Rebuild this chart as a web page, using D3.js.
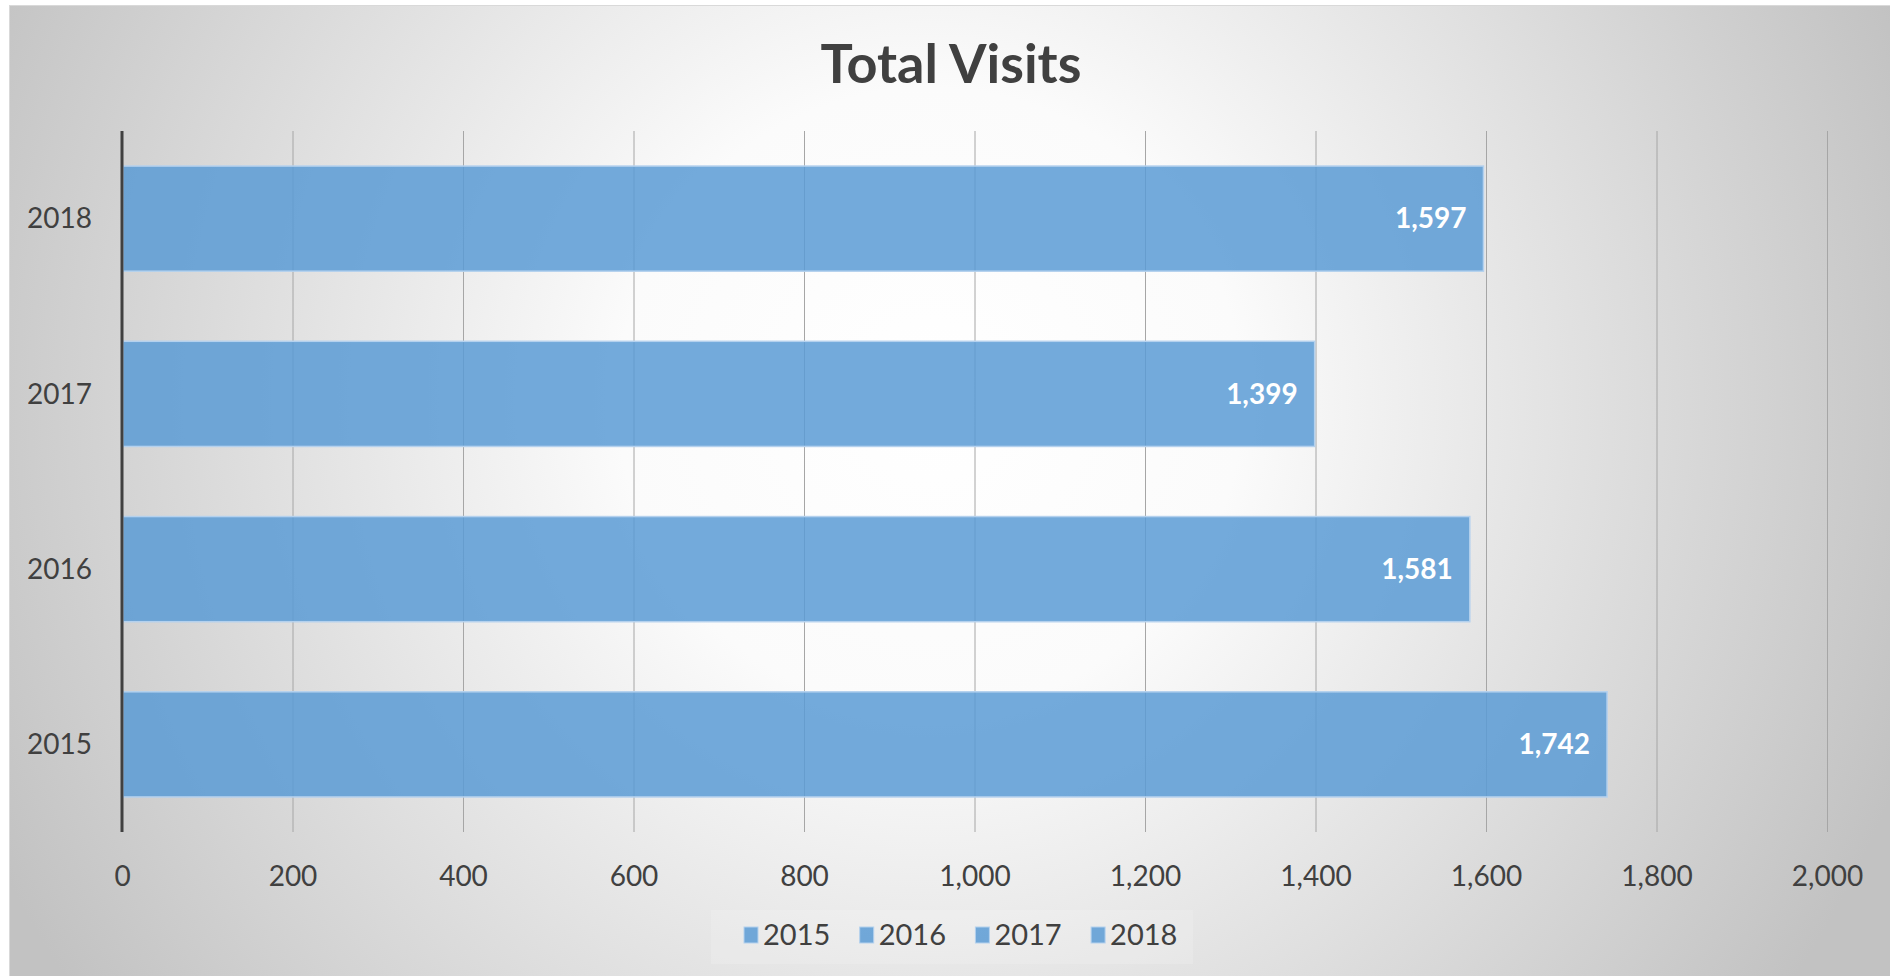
<!DOCTYPE html>
<html>
<head>
<meta charset="utf-8">
<script src="https://cdn.jsdelivr.net/npm/d3@7"></script>
<style>
  body { margin: 0; background: #fff; }
  text { font-family: Lato, "Open Sans", sans-serif; }
</style>
</head>
<body>
<div id="chart-area"></div>
<script>
// values
var years = ["2015", "2016", "2017", "2018"]
var visits = [1742, 1581, 1399, 1597]
var xTicks = [0, 200, 400, 600, 800, 1000, 1200, 1400, 1600, 1800, 2000]
var chartTitle = "Total Visits"

var canvasWidth = 1890
var canvasHeight = 976
var plot = {left: 122, right: 1827, top: 131, bottom: 832}

var svg = d3.select("#chart-area")
	.append("svg")
	.attr("width", canvasWidth)
	.attr("height", canvasHeight)

var defs = svg.append("defs")
var grad = defs.append("radialGradient")
	.attr("id", "bg")
	.attr("gradientUnits", "userSpaceOnUse")
	.attr("cx", 930).attr("cy", 400).attr("r", 1040)
grad.append("stop").attr("offset", 0).attr("stop-color", "#ffffff")
grad.append("stop").attr("offset", 0.3).attr("stop-color", "#fbfbfb")
grad.append("stop").attr("offset", 1).attr("stop-color", "#c2c2c2")

// chart area
svg.append("rect")
	.attr("x", 9.5).attr("y", 5.5)
	.attr("width", canvasWidth - 9).attr("height", canvasHeight - 5)
	.attr("fill", "url(#bg)")
	.attr("stroke", "#d9d9d9")

var x = d3.scaleLinear()
	.domain([0, 2000])
	.range([plot.left, plot.right])

var y = d3.scaleBand()
	.domain(years.slice().reverse())
	.range([plot.top, plot.bottom])
	.paddingInner(0.4)
	.paddingOuter(0.2)

// gridlines
var grid = svg.append("g")
	.attr("transform", "translate(0," + plot.bottom + ")")
	.call(d3.axisBottom(x).tickValues(xTicks).tickSize(-(plot.bottom - plot.top)).tickFormat(""))
grid.select(".domain").remove()
grid.selectAll("line").attr("stroke", "#a6a6a6").attr("stroke-width", 1)

// bars
svg.append("g").selectAll("rect")
	.data(years)
	.enter().append("rect")
		.attr("x", x(0) + 1)
		.attr("y", function(d){ return y(d) })
		.attr("width", function(d, i){ return x(visits[i]) - x(0) - 1 })
		.attr("height", y.bandwidth())
		.attr("fill", "#5b9bd5")
		.attr("fill-opacity", 0.85)
		.attr("stroke", "#b4d1ee")
		.attr("stroke-width", 1.5)

// data labels
svg.append("g").selectAll("text")
	.data(years)
	.enter().append("text")
		.attr("x", function(d, i){ return x(visits[i]) - 17 })
		.attr("y", function(d){ return y(d) + y.bandwidth() / 2 })
		.attr("dy", "0.35em")
		.attr("text-anchor", "end")
		.attr("fill", "#ffffff")
		.attr("font-weight", "bold")
		.attr("font-size", "28px")
		.text(function(d, i){ return d3.format(",")(visits[i]) })

// value axis line
svg.append("line")
	.attr("x1", x(0)).attr("x2", x(0))
	.attr("y1", plot.top).attr("y2", plot.bottom)
	.attr("stroke", "#404040")
	.attr("stroke-width", 3)

// x axis labels
var xAxis = svg.append("g")
	.attr("transform", "translate(0," + plot.bottom + ")")
	.call(d3.axisBottom(x).tickValues(xTicks).tickSize(0).tickFormat(d3.format(",")))
xAxis.select(".domain").remove()
xAxis.selectAll("text")
	.attr("y", 44)
	.attr("dy", "0.35em")
	.attr("fill", "#404040")
	.attr("font-size", "28px")
	.attr("font-family", "Lato, sans-serif")

// category labels
var yAxis = svg.append("g")
	.attr("transform", "translate(" + plot.left + ",0)")
	.call(d3.axisLeft(y).tickSize(0))
yAxis.select(".domain").remove()
yAxis.selectAll("text")
	.attr("x", -30)
	.attr("dy", "0.35em")
	.attr("fill", "#404040")
	.attr("font-size", "28px")
	.attr("font-family", "Lato, sans-serif")

// title
svg.append("text")
	.attr("x", 951)
	.attr("y", 83)
	.attr("text-anchor", "middle")
	.attr("fill", "#404040")
	.attr("font-weight", "bold")
	.attr("font-size", "54px")
	.text(chartTitle)

// legend
var legendPos = {x: 744, y: 935, step: 115.7}
var legend = svg.append("g")
legend.append("rect")
	.attr("x", 711).attr("y", 910)
	.attr("width", 482).attr("height", 54)
	.attr("fill", "#ffffff").attr("fill-opacity", 0.15)

var item = legend.selectAll("g")
	.data(years)
	.enter().append("g")
		.attr("transform", function(d, i){ return "translate(" + (legendPos.x + i * legendPos.step) + "," + legendPos.y + ")" })
item.append("rect")
	.attr("x", 0).attr("y", -8)
	.attr("width", 14).attr("height", 16)
	.attr("fill", "#5b9bd5").attr("fill-opacity", 0.85)
	.attr("stroke", "#b4d1ee")
item.append("text")
	.attr("x", 19)
	.attr("dy", "0.35em")
	.attr("fill", "#404040")
	.attr("font-size", "29px")
	.text(function(d){ return d })
</script>
</body>
</html>
